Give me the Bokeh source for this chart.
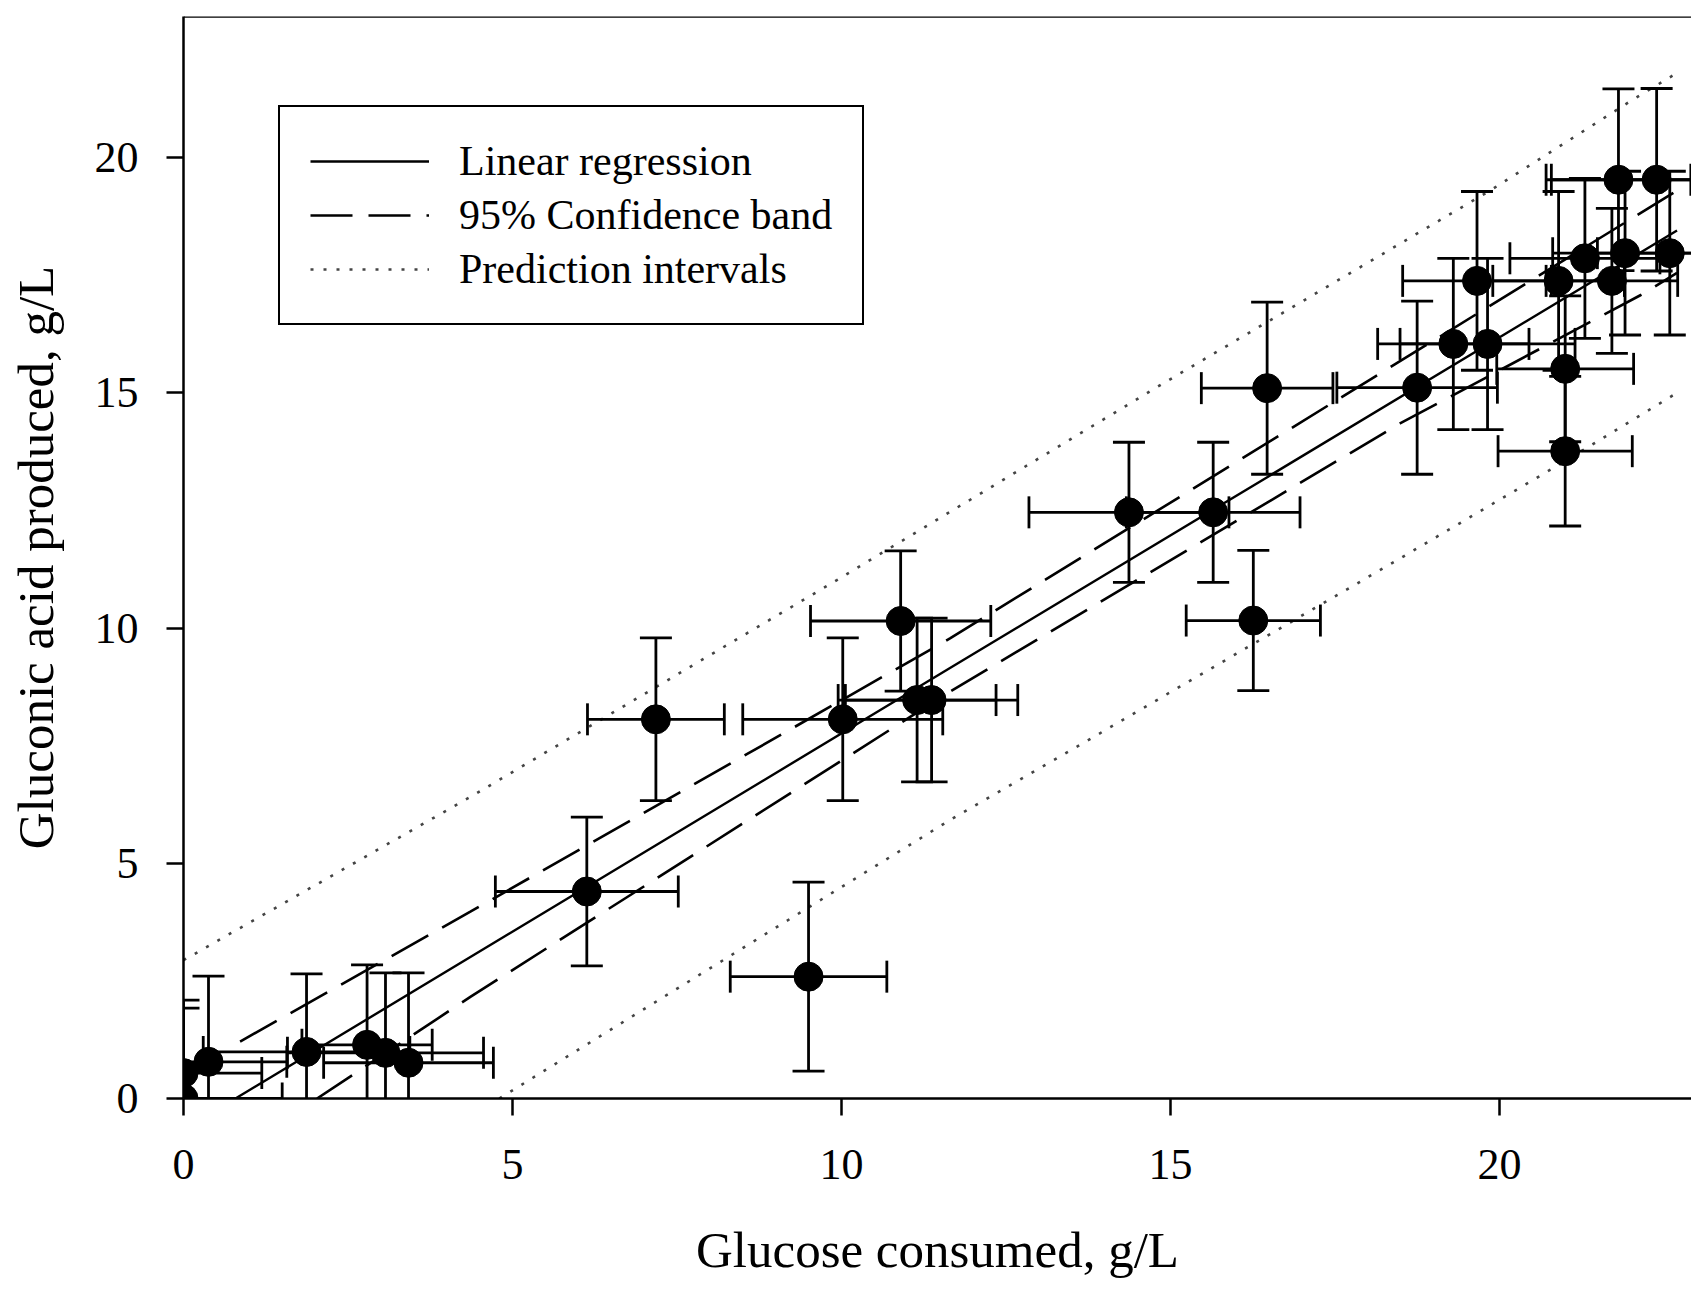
import math
from bokeh.plotting import figure
from bokeh.models import Range1d, FixedTicker, Legend, LegendItem, ColumnDataSource, Span
from bokeh.embed import file_html
from bokeh.resources import INLINE

# ---- data ----
glucose = [0.00, 0.00, 0.38, 1.87, 2.79, 3.07, 3.42, 6.13, 7.18, 9.50, 10.02,
           10.90, 11.15, 11.37, 14.37, 15.65, 16.26, 16.47, 18.75, 19.30, 19.82,
           19.66, 20.90, 21.00, 21.00, 21.30, 21.71, 21.91, 22.59, 21.81, 22.39]
gluconic = [0.00, 0.54, 0.78, 0.99, 1.14, 0.97, 0.76, 4.40, 8.06, 2.59, 8.06,
            10.15, 8.47, 8.47, 12.46, 12.46, 10.16, 15.10, 15.11, 16.04, 16.04,
            17.38, 17.38, 15.51, 13.76, 17.86, 17.38, 17.97, 17.97, 19.53, 19.53]
glucose_err = [1.50, 1.19, 1.19, 1.57, 0.99, 1.49, 1.29, 1.39, 1.04, 1.19, 1.52,
               1.37, 1.20, 1.31, 1.52, 1.32, 1.02, 1.00, 1.22, 1.15, 1.33,
               1.13, 1.00, 1.04, 1.02, 1.14, 1.00, 1.10, 1.10, 1.10, 1.60]
gluconic_err = [1.92, 1.55, 1.82, 1.66, 1.70, 1.70, 1.91, 1.58, 1.73, 2.01, 1.73,
                1.49, 1.74, 1.74, 1.49, 1.49, 1.49, 1.83, 1.84, 1.82, 1.82,
                1.90, 1.90, 1.55, 1.59, 1.70, 1.54, 1.74, 1.74, 1.93, 1.94]

reg_x = [0.79, 11.65, 22.70]
reg_y = [0.00, 9.15, 18.45]

ci_upper_x = [0.86, 4.36, 11.65, 22.70]
ci_upper_y = [1.21, 3.97, 9.78, 19.30]
ci_lower_x = [2.03, 4.36, 11.65, 18.49, 22.15, 22.70]
ci_lower_y = [0.00, 2.16, 8.65, 14.35, 17.08, 17.55]

pi_upper_x = [0.00, 4.36, 9.93, 14.89, 19.87, 21.98, 22.70]
pi_upper_y = [2.94, 6.41, 11.02, 15.20, 19.31, 21.19, 21.80]
pi_lower_x = [4.80, 11.65, 13.58, 18.49, 21.00, 22.70]
pi_lower_y = [0.00, 5.92, 7.48, 11.48, 13.55, 15.00]

x_ticks = [0, 5, 10, 15, 20]
y_ticks = [0, 5, 10, 15, 20]
X_MAX = 22.92
Y_MAX = 23.0

x_title = "Glucose consumed, g/L"
y_title = "Gluconic acid produced, g/L"
labels = ["Linear regression", "95% Confidence band", "Prediction intervals"]

FONT = "Liberation Serif"

p = figure(width=1691, height=1282, output_backend="svg", toolbar_location=None,
           x_range=Range1d(0, X_MAX), y_range=Range1d(0, Y_MAX),
           min_border_left=183, min_border_right=0, min_border_top=16,
           min_border_bottom=184)
p.background_fill_color = "white"
p.border_fill_color = "white"
p.grid.visible = False
p.outline_line_color = None

# top frame border
p.add_layout(Span(location=Y_MAX, dimension="width", line_color="black", line_width=2.5))

# regression, confidence and prediction lines
r_reg = p.line(reg_x, reg_y, line_color="black", line_width=2.4)
r_ciu = p.line(ci_upper_x, ci_upper_y, line_color="black", line_width=2.6, line_dash="42 16")
p.line(ci_lower_x, ci_lower_y, line_color="black", line_width=2.6, line_dash="42 16")
r_piu = p.line(pi_upper_x, pi_upper_y, line_color="#444444", line_width=2.6, line_dash="3 10")
p.line(pi_lower_x, pi_lower_y, line_color="#444444", line_width=2.6, line_dash="3 10")

# error bars
src = ColumnDataSource(dict(
    x=glucose, y=gluconic,
    xl=[a - e for a, e in zip(glucose, glucose_err)],
    xh=[a + e for a, e in zip(glucose, glucose_err)],
    yl=[a - e for a, e in zip(gluconic, gluconic_err)],
    yh=[a + e for a, e in zip(gluconic, gluconic_err)],
))
p.segment(x0="x", y0="yl", x1="x", y1="yh", source=src, line_color="black", line_width=2.8)
p.segment(x0="xl", y0="y", x1="xh", y1="y", source=src, line_color="black", line_width=2.8)
for col in ("yl", "yh"):
    p.scatter(x="x", y=col, source=src, marker="dash", size=32,
              line_color="black", line_width=2.8)
for col in ("xl", "xh"):
    p.scatter(x=col, y="y", source=src, marker="dash", size=32, angle=math.pi / 2,
              line_color="black", line_width=2.8)
p.scatter(x="x", y="y", source=src, marker="circle", size=29,
          fill_color="black", line_color="black")

# axes
p.xaxis.ticker = FixedTicker(ticks=x_ticks)
p.yaxis.ticker = FixedTicker(ticks=y_ticks)
p.xaxis.axis_label = x_title
p.yaxis.axis_label = y_title
for ax in (p.xaxis[0], p.yaxis[0]):
    ax.minor_tick_line_color = None
    ax.major_tick_in = 0
    ax.major_tick_out = 17
    ax.major_tick_line_width = 2.5
    ax.major_tick_line_color = "black"
    ax.axis_line_width = 2.5
    ax.axis_line_color = "black"
    ax.major_label_text_font = FONT
    ax.major_label_text_font_size = "44px"
    ax.major_label_text_color = "black"
    ax.axis_label_text_font = FONT
    ax.axis_label_text_font_size = "51px"
    ax.axis_label_text_font_style = "normal"
    ax.axis_label_text_color = "black"
p.xaxis.major_label_standoff = 34
p.yaxis.major_label_standoff = 28
p.xaxis.axis_label_standoff = 40
p.yaxis.axis_label_standoff = 28

legend = Legend(
    items=[LegendItem(label=labels[0], renderers=[r_reg]),
           LegendItem(label=labels[1], renderers=[r_ciu]),
           LegendItem(label=labels[2], renderers=[r_piu])],
    location=(95, 773), orientation="vertical",
    label_text_font=FONT, label_text_font_size="42px", label_text_color="black",
    glyph_width=119, glyph_height=40, label_height=40, label_standoff=30,
    padding=30, spacing=6, margin=0,
    border_line_color="black", border_line_width=2.5, border_line_alpha=1.0,
    background_fill_color="white", background_fill_alpha=1.0,
)
p.add_layout(legend, "center")

open("out.html", "w").write(file_html(p, INLINE))
